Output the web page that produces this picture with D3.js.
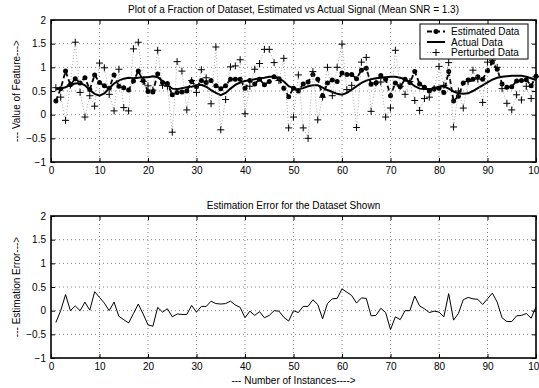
<!DOCTYPE html>
<html>
<head>
<meta charset=utf-8>
<title>Estimated vs Actual Signal</title>
<style>
body{margin: 0; background: #fff;}
svg{display: block; font-family: "Liberation Sans", Arial, sans-serif;}
.grid line{stroke: #666; stroke-width: 0.8; stroke-dasharray: 1,3;}
.axis text{font-size: 10px; fill: #000;}
.axis line{stroke: #000;}
.label{font-size: 10px; fill: #000;}
</style>
</head>
<body>
<div id=chart></div>
<script src="https://cdn.jsdelivr.net/npm/d3@7"></script>
<script>
//one value per instance, instance number = position in the array (1..100)
var actualData = [0.54,0.55,0.58,0.63,0.66,0.67,0.62,0.52,0.44,0.40,
                  0.45,0.56,0.66,0.72,0.76,0.78,0.77,0.78,0.79,0.79,
                  0.81,0.79,0.71,0.62,0.55,0.54,0.56,0.58,0.59,0.62,
                  0.63,0.59,0.52,0.46,0.41,0.46,0.55,0.63,0.68,0.71,
                  0.73,0.75,0.77,0.78,0.80,0.80,0.77,0.70,0.60,0.56,
                  0.54,0.56,0.60,0.62,0.62,0.57,0.52,0.48,0.44,0.42,
                  0.46,0.53,0.60,0.67,0.72,0.75,0.77,0.78,0.79,0.80,
                  0.80,0.78,0.75,0.68,0.60,0.55,0.54,0.54,0.56,0.59,
                  0.60,0.55,0.49,0.45,0.44,0.45,0.50,0.56,0.62,0.68,
                  0.74,0.78,0.80,0.81,0.82,0.82,0.82,0.80,0.77,0.73];

var estimatedData = [0.29,0.55,0.92,0.63,0.76,0.67,0.78,0.53,0.84,0.68,
                     0.61,0.56,0.84,0.60,0.57,0.52,0.71,0.92,0.72,0.49,
                     0.48,0.86,0.68,0.66,0.42,0.47,0.48,0.50,0.70,0.59,
                     0.72,0.68,0.72,0.61,0.55,0.61,0.75,0.75,0.75,0.56,
                     0.72,0.65,0.75,0.63,0.70,0.80,0.76,0.56,0.38,0.56,
                     0.50,0.65,0.69,0.85,0.75,0.40,0.67,0.73,0.70,0.88,
                     0.85,0.85,0.76,0.94,0.98,0.64,0.67,0.83,0.75,0.40,
                     0.67,0.59,0.75,0.68,0.91,0.65,0.58,0.50,0.55,0.56,
                     0.47,0.91,0.29,0.39,0.67,0.73,0.75,0.80,0.75,0.93,
                     1.11,0.96,0.65,0.58,0.59,0.71,0.72,0.74,0.61,0.81];

var perturbedData = [0.57,0.37,-0.12,0.63,1.53,0.47,-0.05,0.40,0.18,1.09,
                     0.99,0.43,0.08,0.96,0.15,0.08,1.39,1.53,0.70,0.61,
                     0.52,1.36,0.62,0.60,-0.37,1.12,0.92,0.10,0.72,0.47,
                     0.95,0.78,0.23,1.43,-0.32,0.32,1.01,1.03,1.16,0.02,
                     0.60,0.96,1.08,1.38,1.38,1.10,0.72,1.19,-0.28,-0.05,
                     0.84,-0.28,-0.50,0.91,-0.11,0.37,1.00,0.40,1.00,1.49,
                     0.53,0.62,-0.27,1.11,1.21,0.07,0.67,0.69,-0.05,0.14,
                     1.36,0.60,0.43,0.70,0.30,0.09,0.34,0.37,0.55,1.02,
                     0.62,1.10,-0.26,0.50,0.14,0.70,0.94,0.75,0.26,1.11,
                     1.15,1.00,0.55,0.24,0.10,0.42,0.31,0.60,0.34,0.80];

var errorData = [-0.25,0.00,0.34,0.00,0.10,0.00,0.18,0.01,0.40,0.28,
                 0.16,0.00,0.18,-0.12,-0.19,-0.26,-0.06,0.14,-0.07,-0.30,
                 -0.33,0.07,-0.03,0.04,-0.13,-0.07,-0.08,-0.08,0.11,-0.03,
                 0.09,0.09,0.20,0.15,0.14,0.15,0.20,0.12,0.07,-0.15,
                 -0.01,-0.10,-0.02,-0.15,-0.10,0.00,-0.01,-0.14,-0.22,0.00,
                 -0.04,0.09,0.09,0.23,0.13,-0.17,0.15,0.25,0.26,0.46,
                 0.39,0.32,0.16,0.27,0.26,-0.11,-0.10,0.05,-0.04,-0.40,
                 -0.13,-0.19,0.00,0.00,0.31,0.10,0.04,-0.04,-0.01,-0.03,
                 -0.13,0.36,-0.20,-0.06,0.23,0.28,0.25,0.24,0.13,0.25,
                 0.37,0.18,-0.15,-0.23,-0.23,-0.11,-0.10,-0.06,-0.16,0.08];

var xTicks = [0,10,20,30,40,50,60,70,80,90,100];
var yTicks = [-1,-0.5,0,0.5,1,1.5,2];
var legendLabels = ['Estimated Data','Actual Data','Perturbed Data'];

var width = 539, height = 388;
var left = 51, right = 536;

var svg = d3.select('#chart').append('svg')
    .attr('width', width)
    .attr('height', height);

var x = d3.scaleLinear().domain([0, 100]).range([left, right]);
var yTop = d3.scaleLinear().domain([-1, 2]).range([162, 20]);
var yBot = d3.scaleLinear().domain([-1, 2]).range([358, 216]);

var fmt = d => d < 0 ? '\u2212' + Math.abs(d) : '' + d;

//grid, ticks, box, title and y label for one subplot
function drawFrame(y, title, ylabel){
  var top = y.range()[1], bottom = y.range()[0];
  var g = svg.append('g');

  g.append('g').attr('class', 'grid')
    .selectAll('line')
      .data(xTicks.slice(1, -1))
    .enter().append('line')
      .attr('x1', d => x(d)).attr('x2', d => x(d))
      .attr('y1', top).attr('y2', bottom);

  g.append('g').attr('class', 'grid')
    .selectAll('line')
      .data(yTicks.slice(1, -1))
    .enter().append('line')
      .attr('x1', left).attr('x2', right)
      .attr('y1', d => y(d)).attr('y2', d => y(d));

  //ticks point inward like matlab
  g.append('g').attr('class', 'axis')
      .attr('transform', 'translate(0,' + bottom + ')')
      .call(d3.axisBottom(x).tickValues(xTicks).tickSizeInner(-4).tickSizeOuter(0).tickPadding(5));
  g.append('g').attr('class', 'axis')
      .attr('transform', 'translate(0,' + top + ')')
      .call(d3.axisTop(x).tickValues(xTicks).tickSizeInner(-4).tickSizeOuter(0).tickFormat(''));
  g.append('g').attr('class', 'axis')
      .attr('transform', 'translate(' + left + ',0)')
      .call(d3.axisLeft(y).tickValues(yTicks).tickSizeInner(-4).tickSizeOuter(0).tickPadding(5).tickFormat(fmt));
  g.append('g').attr('class', 'axis')
      .attr('transform', 'translate(' + right + ',0)')
      .call(d3.axisRight(y).tickValues(yTicks).tickSizeInner(-4).tickSizeOuter(0).tickFormat(''));
  g.selectAll('.axis .domain').remove();

  g.append('rect')
      .attr('x', left).attr('y', top)
      .attr('width', right - left).attr('height', bottom - top)
      .attr('fill', 'none').attr('stroke', '#000').attr('stroke-width', 1.6);

  g.append('text').attr('class', 'label')
      .attr('text-anchor', 'middle')
      .attr('x', (left + right) / 2)
      .attr('y', top - 7)
      .text(title);

  g.append('text').attr('class', 'label')
      .attr('text-anchor', 'middle')
      .attr('transform', 'rotate(-90)')
      .attr('x', -(top + bottom) / 2)
      .attr('y', 20)
      .text(ylabel);
}

drawFrame(yTop, 'Plot of a Fraction of Dataset, Estimated vs Actual Signal (Mean SNR = 1.3)', '--- Value of Feature--->');
drawFrame(yBot, 'Estimation Error for the Dataset Shown', '--- Estimation Error--->');

svg.append('text').attr('class', 'label')
    .attr('text-anchor', 'middle')
    .attr('x', (left + right) / 2)
    .attr('y', 384)
    .text('--- Number of Instances---->');

//top plot
var lineTop = d3.line().x((d, i) => x(i + 1)).y(d => yTop(d));
var plus = 'M-3.5,0H3.5M0,-3.5V3.5';

svg.append('path')
    .datum(estimatedData)
    .attr('fill', 'none').attr('stroke', '#000')
    .attr('stroke-width', 1.8).attr('stroke-dasharray', '5,3')
    .attr('d', lineTop);
svg.append('g').selectAll('circle')
    .data(estimatedData)
  .enter().append('circle')
    .attr('cx', (d, i) => x(i + 1))
    .attr('cy', d => yTop(d))
    .attr('r', 2.5);

svg.append('path')
    .datum(actualData)
    .attr('fill', 'none').attr('stroke', '#000')
    .attr('stroke-width', 2)
    .attr('d', lineTop);

svg.append('path')
    .datum(perturbedData)
    .attr('fill', 'none').attr('stroke', '#888')
    .attr('stroke-width', 0.7).attr('stroke-dasharray', '1,2')
    .attr('d', lineTop);
svg.append('g').selectAll('path')
    .data(perturbedData)
  .enter().append('path')
    .attr('transform', (d, i) => 'translate(' + x(i + 1) + ',' + yTop(d) + ')')
    .attr('d', plus)
    .attr('stroke', '#000').attr('stroke-width', 1);

//legend
var legend = svg.append('g').attr('transform', 'translate(420,24)');
legend.append('rect')
    .attr('width', 108).attr('height', 35)
    .attr('fill', '#fff').attr('stroke', '#000').attr('stroke-width', 1);
var rows = legend.selectAll('g.row')
    .data(legendLabels)
  .enter().append('g')
    .attr('class', 'row')
    .attr('transform', (d, i) => 'translate(0,' + (7.5 + i * 10.5) + ')');
rows.append('text').attr('class', 'label')
    .attr('x', 31).attr('dy', '0.35em')
    .text(d => d);
rows.filter((d, i) => i == 0).append('line')
    .attr('x1', 7).attr('x2', 25)
    .attr('stroke', '#000').attr('stroke-width', 1.8).attr('stroke-dasharray', '5,3');
rows.filter((d, i) => i == 0).append('circle').attr('cx', 16).attr('r', 2.5);
rows.filter((d, i) => i == 1).append('line')
    .attr('x1', 7).attr('x2', 25)
    .attr('stroke', '#000').attr('stroke-width', 2);
rows.filter((d, i) => i == 2).append('line')
    .attr('x1', 7).attr('x2', 25)
    .attr('stroke', '#888').attr('stroke-width', 0.7).attr('stroke-dasharray', '1,2');
rows.filter((d, i) => i == 2).append('path')
    .attr('transform', 'translate(16,0)')
    .attr('d', plus)
    .attr('stroke', '#000').attr('stroke-width', 1);

//bottom plot
svg.append('path')
    .datum(errorData)
    .attr('fill', 'none').attr('stroke', '#000')
    .attr('stroke-width', 1)
    .attr('d', d3.line().x((d, i) => x(i + 1)).y(d => yBot(d)));
</script>
</body>
</html>
